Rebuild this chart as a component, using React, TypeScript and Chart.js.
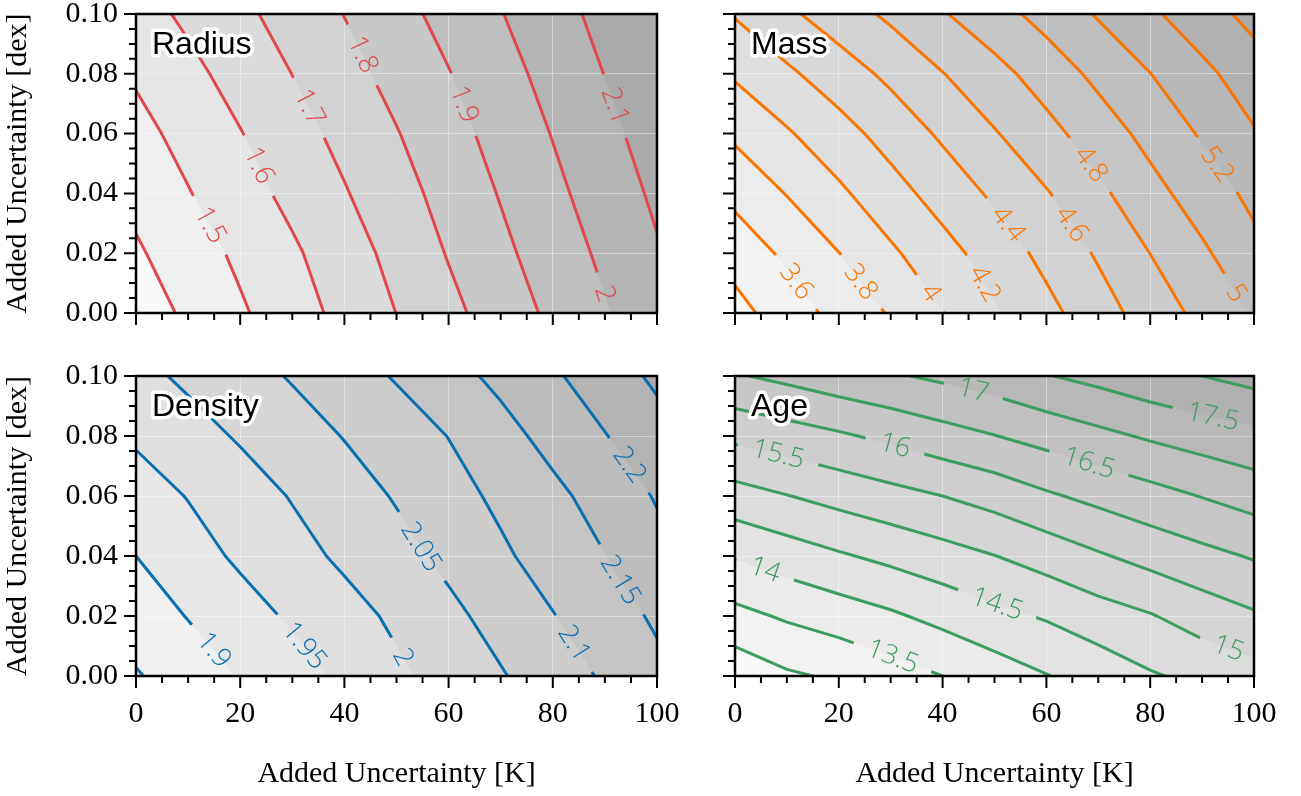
import React, { useEffect, useRef } from 'react';
import { Chart, registerables } from 'chart.js';

Chart.register(...registerables);

// ---------------- data ----------------
const X_VALUES = [0, 10, 20, 30, 40, 50, 60, 70, 80, 90, 100];
const Y_VALUES = [0, 0.02, 0.04, 0.06, 0.08, 0.1];

// rows follow Y_VALUES, columns follow X_VALUES
const RADIUS_GRID = [
  [1.348, 1.417, 1.487, 1.557, 1.628, 1.701, 1.774, 1.847, 1.920, 1.992, 2.064],
  [1.387, 1.453, 1.519, 1.585, 1.656, 1.729, 1.806, 1.878, 1.949, 2.019, 2.091],
  [1.427, 1.495, 1.560, 1.626, 1.693, 1.763, 1.834, 1.906, 1.977, 2.047, 2.117],
  [1.469, 1.532, 1.596, 1.662, 1.728, 1.795, 1.865, 1.934, 2.004, 2.074, 2.143],
  [1.512, 1.574, 1.637, 1.701, 1.766, 1.832, 1.896, 1.964, 2.033, 2.102, 2.172],
  [1.560, 1.619, 1.678, 1.739, 1.802, 1.867, 1.932, 1.996, 2.063, 2.129, 2.196],
];
const MASS_GRID = [
  [3.333, 3.500, 3.662, 3.818, 3.995, 4.181, 4.344, 4.515, 4.688, 4.855, 5.016],
  [3.478, 3.639, 3.797, 3.968, 4.129, 4.290, 4.455, 4.623, 4.802, 4.967, 5.145],
  [3.654, 3.808, 3.964, 4.124, 4.281, 4.434, 4.586, 4.757, 4.934, 5.095, 5.248],
  [3.836, 3.979, 4.125, 4.276, 4.431, 4.586, 4.738, 4.898, 5.061, 5.221, 5.384],
  [4.025, 4.165, 4.303, 4.444, 4.594, 4.735, 4.889, 5.049, 5.197, 5.351, 5.505],
  [4.215, 4.362, 4.501, 4.639, 4.784, 4.925, 5.070, 5.218, 5.366, 5.514, 5.662],
];
const DENSITY_GRID = [
  [1.846, 1.874, 1.903, 1.931, 1.959, 1.991, 2.019, 2.046, 2.076, 2.106, 2.138],
  [1.874, 1.902, 1.930, 1.957, 1.982, 2.009, 2.038, 2.068, 2.098, 2.128, 2.157],
  [1.900, 1.930, 1.958, 1.983, 2.009, 2.034, 2.062, 2.092, 2.121, 2.149, 2.184],
  [1.927, 1.952, 1.977, 2.003, 2.028, 2.054, 2.082, 2.110, 2.138, 2.170, 2.204],
  [1.957, 1.981, 2.005, 2.028, 2.052, 2.076, 2.101, 2.133, 2.166, 2.198, 2.231],
  [1.986, 2.009, 2.031, 2.054, 2.079, 2.104, 2.133, 2.162, 2.193, 2.226, 2.259],
];
const AGE_GRID = [
  [12.66, 12.93, 13.07, 13.29, 13.50, 13.74, 13.98, 14.20, 14.45, 14.63, 14.81],
  [13.354, 13.565, 13.742, 13.928, 14.147, 14.373, 14.549, 14.779, 14.967, 15.227, 15.438],
  [14.045, 14.248, 14.445, 14.622, 14.809, 14.991, 15.21, 15.446, 15.668, 15.86, 16.043],
  [14.798, 14.985, 15.167, 15.335, 15.5, 15.691, 15.933, 16.134, 16.323, 16.518, 16.71],
  [15.617, 15.773, 15.933, 16.116, 16.31, 16.488, 16.677, 16.876, 17.063, 17.226, 17.369],
  [16.455, 16.62, 16.80, 16.944, 17.092, 17.257, 17.476, 17.645, 17.835, 18.0, 18.171],
];

const RADIUS_LEVELS = [1.4, 1.5, 1.6, 1.7, 1.8, 1.9, 2.0, 2.1];
const MASS_LEVELS = [3.4, 3.6, 3.8, 4.0, 4.2, 4.4, 4.6, 4.8, 5.0, 5.2, 5.4, 5.6];
const DENSITY_LEVELS = [1.85, 1.9, 1.95, 2.0, 2.05, 2.1, 2.15, 2.2, 2.25];
const AGE_LEVELS = [13, 13.5, 14, 14.5, 15, 15.5, 16, 16.5, 17, 17.5, 18];

// inline contour labels: [level, x, y] (approximate anchor, snapped onto the contour)
const RADIUS_LABELS = [[1.5, 13.8, 0.029], [1.6, 23.2, 0.049], [1.7, 33.0, 0.0685], [1.8, 43.0, 0.086], [1.9, 62.7, 0.0696], [2.0, 89.8, 0.0063], [2.1, 90.7, 0.0685]];
const MASS_LABELS = [[3.6, 11.8, 0.0104], [3.8, 24.3, 0.0104], [4.0, 37.5, 0.0065], [4.2, 47.8, 0.0094], [4.4, 52.3, 0.0293], [4.6, 64.5, 0.0293], [4.8, 68.3, 0.0494], [5.0, 96.9, 0.007], [5.2, 92.7, 0.0494]];
const DENSITY_LABELS = [[1.9, 15, 0.0087], [1.95, 32.2, 0.0099], [2.0, 51, 0.006], [2.05, 54.7, 0.043], [2.1, 84.1, 0.0109], [2.15, 93.0, 0.032], [2.2, 94.3, 0.0698]];
const AGE_LABELS = [[13.5, 30.4, 0.0065], [14, 5.7, 0.0348], [14.5, 50.5, 0.024], [15, 95.0, 0.0087], [15.5, 8.3, 0.0737], [16, 30.8, 0.0765], [16.5, 68.3, 0.0715], [17, 45.9, 0.0948], [17.5, 92.1, 0.0865]];

const X_TITLE = 'Added Uncertainty [K]';
const Y_TITLE = 'Added Uncertainty [dex]';

// ---------------- styles ----------------
const SERIF = '"Liberation Serif", "Times New Roman", "DejaVu Serif", serif';
const LABEL_FONT = '300 27px "Open Sans", Lato, "DejaVu Sans", sans-serif';
const TITLE_FONT = '32px "Liberation Sans", Arial, "DejaVu Sans", sans-serif';
const GAP_PAD = 15;

const PANELS = [
  { name: 'Radius', grid: RADIUS_GRID, levels: RADIUS_LEVELS, labels: RADIUS_LABELS, color: '#e0484c',
    left: 0, top: 0, width: 680, height: 360, pad: { top: 14, right: 23, left: 0, bottom: 0 }, yw: 136, xh: 47, showX: false, showY: true },
  { name: 'Mass', grid: MASS_GRID, levels: MASS_LEVELS, labels: MASS_LABELS, color: '#fa7602',
    left: 680, top: 0, width: 621, height: 360, pad: { top: 14, right: 47, left: 0, bottom: 0 }, yw: 55, xh: 47, showX: false, showY: false },
  { name: 'Density', grid: DENSITY_GRID, levels: DENSITY_LEVELS, labels: DENSITY_LABELS, color: '#0a6fb1',
    left: 0, top: 360, width: 680, height: 436, pad: { top: 16, right: 23, left: 0, bottom: 0 }, yw: 136, xh: 120, showX: true, showY: true },
  { name: 'Age', grid: AGE_GRID, levels: AGE_LEVELS, labels: AGE_LABELS, color: '#3d9c5f',
    left: 680, top: 360, width: 621, height: 436, pad: { top: 16, right: 47, left: 0, bottom: 0 }, yw: 55, xh: 120, showX: true, showY: false },
];

// ---------------- helpers ----------------
function cellIndex(arr: number[], v: number) {
  let i = 0;
  while (i < arr.length - 2 && v > arr[i + 1]) i++;
  return i;
}

function valueAt(z: number[][], x: number, y: number) {
  const i = cellIndex(X_VALUES, x);
  const j = cellIndex(Y_VALUES, y);
  const tx = (x - X_VALUES[i]) / (X_VALUES[i + 1] - X_VALUES[i]);
  const ty = (y - Y_VALUES[j]) / (Y_VALUES[j + 1] - Y_VALUES[j]);
  const a = z[j][i], b = z[j][i + 1], c = z[j + 1][i], d = z[j + 1][i + 1];
  return a * (1 - tx) * (1 - ty) + b * tx * (1 - ty) + c * (1 - tx) * ty + d * tx * ty;
}

function contourSegments(z: number[][], L: number) {
  const out: any[] = [];
  for (let j = 0; j < Y_VALUES.length - 1; j++) {
    for (let i = 0; i < X_VALUES.length - 1; i++) {
      const x0 = X_VALUES[i], x1 = X_VALUES[i + 1], y0 = Y_VALUES[j], y1 = Y_VALUES[j + 1];
      const v00 = z[j][i], v10 = z[j][i + 1], v01 = z[j + 1][i], v11 = z[j + 1][i + 1];
      const pts: { x: number; y: number }[] = [];
      const edge = (a: number, b: number, pa: [number, number], pb: [number, number]) => {
        if ((a < L) !== (b < L)) {
          const t = (L - a) / (b - a);
          pts.push({ x: pa[0] + (pb[0] - pa[0]) * t, y: pa[1] + (pb[1] - pa[1]) * t });
        }
      };
      edge(v00, v10, [x0, y0], [x1, y0]);
      edge(v10, v11, [x1, y0], [x1, y1]);
      edge(v01, v11, [x0, y1], [x1, y1]);
      edge(v00, v01, [x0, y0], [x0, y1]);
      if (pts.length === 2) {
        out.push(pts[0], pts[1], { x: null, y: null });
      } else if (pts.length === 4) {
        out.push(pts[0], pts[1], { x: null, y: null }, pts[2], pts[3], { x: null, y: null });
      }
    }
  }
  return out;
}

function grayFor(k: number, nb: number) {
  return Math.round(249 - (249 - 170) * k / (nb - 1));
}

function makePlugin(panel: any) {
  let placed: any[] = [];
  const placeLabels = (chart: any) => {
    const xs = chart.scales.x, ys = chart.scales.y;
    const kx = xs.getPixelForValue(1) - xs.getPixelForValue(0);
    const ky = ys.getPixelForValue(1) - ys.getPixelForValue(0);
    const ctx = chart.ctx;
    ctx.save();
    ctx.font = LABEL_FONT;
    const res = panel.labels.map(([lev, x0, y0]: number[]) => {
      let px = xs.getPixelForValue(x0), py = ys.getPixelForValue(y0);
      let gx = 1, gy = 0;
      for (let it = 0; it < 5; it++) {
        const x = xs.getValueForPixel(px), y = ys.getValueForPixel(py);
        const v = valueAt(panel.grid, x, y);
        const dvdx = (valueAt(panel.grid, x + 0.25, y) - valueAt(panel.grid, x - 0.25, y)) / 0.5;
        const dvdy = (valueAt(panel.grid, x, y + 0.00025) - valueAt(panel.grid, x, y - 0.00025)) / 0.0005;
        gx = dvdx / kx; gy = dvdy / ky;
        const g2 = gx * gx + gy * gy;
        px -= (v - lev) * gx / g2;
        py -= (v - lev) * gy / g2;
      }
      let a = Math.atan2(gx, -gy);
      if (a > Math.PI / 2) a -= Math.PI;
      if (a < -Math.PI / 2) a += Math.PI;
      const text = String(lev);
      const w = ctx.measureText(text).width;
      return { text, px, py, a, w };
    });
    ctx.restore();
    return res;
  };

  return {
    id: 'contourPanel' + panel.name,
    beforeDraw(chart: any) {
      const { ctx, chartArea: area, scales } = chart;
      const xs = scales.x, ys = scales.y;
      const L = Math.round(area.left), T = Math.round(area.top);
      const W = Math.round(area.right) - L, H = Math.round(area.bottom) - T;
      const img = ctx.createImageData(W, H);
      const nb = panel.levels.length + 1;
      const grays: number[] = [];
      for (let k = 0; k < nb; k++) grays.push(grayFor(k, nb));
      const xv: number[] = [];
      for (let c = 0; c < W; c++) xv.push(xs.getValueForPixel(L + c + 0.5));
      for (let r = 0; r < H; r++) {
        const yv = ys.getValueForPixel(T + r + 0.5);
        for (let c = 0; c < W; c++) {
          const v = valueAt(panel.grid, xv[c], yv);
          let k = 0;
          while (k < panel.levels.length && v >= panel.levels[k]) k++;
          const g = grays[k];
          const o = (r * W + c) * 4;
          img.data[o] = g; img.data[o + 1] = g; img.data[o + 2] = g; img.data[o + 3] = 255;
        }
      }
      ctx.putImageData(img, L, T);
    },
    beforeDatasetsDraw(chart: any) {
      const ctx = chart.ctx;
      placed = placeLabels(chart);
      ctx.save();
      ctx.beginPath();
      ctx.rect(0, 0, chart.width, chart.height);
      for (const lb of placed) {
        const hw = lb.w / 2 + GAP_PAD, hh = 13;
        const c = Math.cos(lb.a), s = Math.sin(lb.a);
        const corners = [[-hw, -hh], [hw, -hh], [hw, hh], [-hw, hh]].map(([u, v]) => [lb.px + u * c - v * s, lb.py + u * s + v * c]);
        ctx.moveTo(corners[0][0], corners[0][1]);
        for (let q = 1; q < 4; q++) ctx.lineTo(corners[q][0], corners[q][1]);
        ctx.closePath();
      }
      ctx.clip('evenodd');
    },
    afterDatasetsDraw(chart: any) {
      const ctx = chart.ctx;
      ctx.restore();
      ctx.save();
      ctx.font = LABEL_FONT;
      ctx.fillStyle = panel.color;
      ctx.textAlign = 'center';
      ctx.textBaseline = 'middle';
      for (const lb of placed) {
        ctx.save();
        ctx.translate(lb.px, lb.py);
        ctx.rotate(lb.a);
        ctx.fillText(lb.text, 0, 0);
        ctx.restore();
      }
      ctx.restore();
    },
    afterDraw(chart: any) {
      const { ctx, chartArea: a, scales } = chart;
      const xs = scales.x, ys = scales.y;
      ctx.save();
      ctx.strokeStyle = '#000';
      ctx.lineWidth = 2;
      ctx.beginPath();
      for (let k = 0; k <= 20; k++) {
        const px = xs.getPixelForValue(k * 5);
        const len = k % 4 === 0 ? 12 : 7;
        ctx.moveTo(px, a.bottom);
        ctx.lineTo(px, a.bottom + len);
      }
      for (let k = 0; k <= 20; k++) {
        const py = ys.getPixelForValue(k * 0.005);
        const len = k % 4 === 0 ? 12 : 7;
        ctx.moveTo(a.left, py);
        ctx.lineTo(a.left - len, py);
      }
      ctx.stroke();
      ctx.lineWidth = 2.5;
      ctx.strokeRect(a.left, a.top, a.right - a.left, a.bottom - a.top);
      // panel title
      ctx.font = TITLE_FONT;
      ctx.textAlign = 'left';
      ctx.textBaseline = 'alphabetic';
      ctx.lineJoin = 'round';
      ctx.lineWidth = 7;
      ctx.strokeStyle = '#fff';
      ctx.strokeText(panel.name, a.left + 16, a.top + 40);
      ctx.fillStyle = '#000';
      ctx.fillText(panel.name, a.left + 16, a.top + 40);
      ctx.restore();
    },
  };
}

function buildConfig(panel: any): any {
  return {
    type: 'scatter',
    data: {
      datasets: panel.levels.map((lev: number) => ({
        label: String(lev),
        data: contourSegments(panel.grid, lev),
        showLine: true,
        spanGaps: false,
        borderColor: panel.color,
        borderWidth: 3,
        borderCapStyle: 'round',
        borderJoinStyle: 'round',
        pointRadius: 0,
        pointHoverRadius: 0,
        tension: 0,
        clip: 0,
      })),
    },
    options: {
      animation: false,
      responsive: false,
      maintainAspectRatio: false,
      events: [],
      layout: { padding: panel.pad },
      plugins: { legend: { display: false }, tooltip: { enabled: false }, title: { display: false } },
      scales: {
        x: {
          type: 'linear', min: 0, max: 100,
          ticks: { stepSize: 20, display: panel.showX, color: '#000', font: { family: SERIF, size: 30 }, padding: 20, maxRotation: 0, autoSkip: false },
          grid: { color: 'rgba(255,255,255,0.4)', lineWidth: 1, drawTicks: false },
          border: { display: false },
          title: { display: panel.showX, text: X_TITLE, color: '#000', font: { family: SERIF, size: 30 }, padding: { top: 0, bottom: 4 } },
          afterFit: (s: any) => { s.height = panel.xh; s.paddingLeft = 0; s.paddingRight = 0; },
        },
        y: {
          type: 'linear', min: 0, max: 0.1,
          ticks: { stepSize: 0.02, display: panel.showY, color: '#000', font: { family: SERIF, size: 30 }, padding: 18, autoSkip: false,
            callback: (v: any) => Number(v).toFixed(2) },
          grid: { color: 'rgba(255,255,255,0.4)', lineWidth: 1, drawTicks: false },
          border: { display: false },
          title: { display: panel.showY, text: Y_TITLE, color: '#000', font: { family: SERIF, size: 30 }, padding: { top: 0, bottom: 0 } },
          afterFit: (s: any) => { s.width = panel.yw; s.paddingTop = 0; s.paddingBottom = 0; },
        },
      },
    },
    plugins: [makePlugin(panel)],
  };
}

function Panel({ panel }: { panel: any }) {
  const ref = useRef<HTMLCanvasElement | null>(null);
  useEffect(() => {
    if (!ref.current) return;
    const chart = new Chart(ref.current, buildConfig(panel));
    return () => chart.destroy();
  }, [panel]);
  return (
    <canvas
      ref={ref}
      width={panel.width}
      height={panel.height}
      style={{ position: 'absolute', left: panel.left, top: panel.top, width: panel.width, height: panel.height }}
    />
  );
}

export default function App() {
  return (
    <div style={{ position: 'absolute', left: 0, top: 0, width: 1301, height: 796, background: '#fff', overflow: 'hidden' }}>
      {PANELS.map((p) => <Panel key={p.name} panel={p} />)}
    </div>
  );
}
